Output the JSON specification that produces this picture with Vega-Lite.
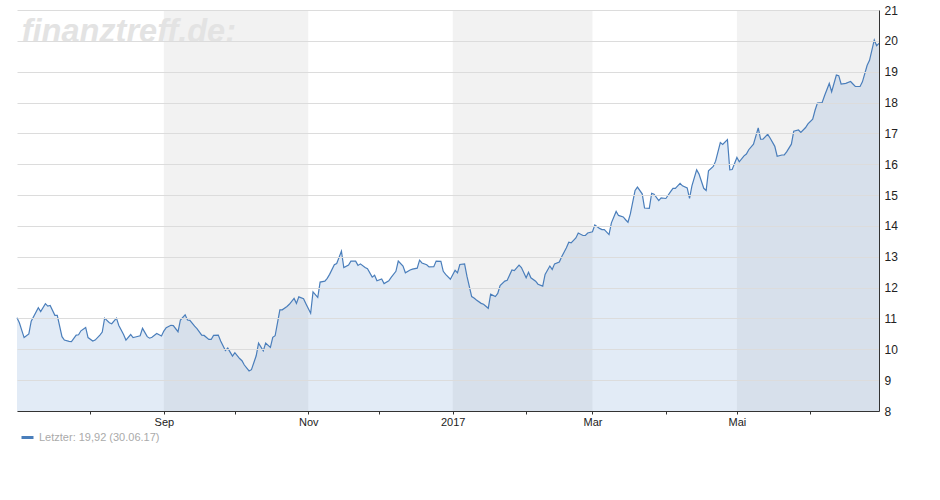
{
  "$schema": "https://vega.github.io/schema/vega-lite/v6.json",
  "width": 862,
  "height": 401,
  "padding": {"left": 14, "top": 4, "right": 5, "bottom": 5},
  "background": "white",
  "config": {"view": {"stroke": null}, "font": "Liberation Sans"},
  "datasets": {
    "bands": [
      {"start": "2016-09-01", "end": "2016-11-01"},
      {"start": "2017-01-01", "end": "2017-03-01"},
      {"start": "2017-05-01", "end": "2017-06-30"}
    ],
    "prices": [
      {"date": "2016-07-01", "value": 11.02}, {"date": "2016-07-02", "value": 10.86}, {"date": "2016-07-04", "value": 10.38}, {"date": "2016-07-06", "value": 10.50},
      {"date": "2016-07-07", "value": 10.91}, {"date": "2016-07-10", "value": 11.35}, {"date": "2016-07-11", "value": 11.22}, {"date": "2016-07-13", "value": 11.48},
      {"date": "2016-07-14", "value": 11.40}, {"date": "2016-07-15", "value": 11.42}, {"date": "2016-07-17", "value": 11.10}, {"date": "2016-07-18", "value": 11.10},
      {"date": "2016-07-20", "value": 10.41}, {"date": "2016-07-21", "value": 10.30}, {"date": "2016-07-23", "value": 10.26}, {"date": "2016-07-24", "value": 10.25},
      {"date": "2016-07-26", "value": 10.46}, {"date": "2016-07-27", "value": 10.47}, {"date": "2016-07-28", "value": 10.60}, {"date": "2016-07-30", "value": 10.71},
      {"date": "2016-07-31", "value": 10.38}, {"date": "2016-08-02", "value": 10.27}, {"date": "2016-08-03", "value": 10.30}, {"date": "2016-08-05", "value": 10.46},
      {"date": "2016-08-06", "value": 10.56}, {"date": "2016-08-07", "value": 11.01}, {"date": "2016-08-09", "value": 10.86}, {"date": "2016-08-10", "value": 10.83},
      {"date": "2016-08-12", "value": 11.01}, {"date": "2016-08-13", "value": 10.77}, {"date": "2016-08-15", "value": 10.48}, {"date": "2016-08-16", "value": 10.30},
      {"date": "2016-08-18", "value": 10.48}, {"date": "2016-08-19", "value": 10.38}, {"date": "2016-08-20", "value": 10.40}, {"date": "2016-08-22", "value": 10.44},
      {"date": "2016-08-23", "value": 10.68}, {"date": "2016-08-25", "value": 10.41}, {"date": "2016-08-26", "value": 10.36}, {"date": "2016-08-27", "value": 10.39},
      {"date": "2016-08-29", "value": 10.51}, {"date": "2016-08-31", "value": 10.43}, {"date": "2016-09-01", "value": 10.59}, {"date": "2016-09-02", "value": 10.70},
      {"date": "2016-09-04", "value": 10.78}, {"date": "2016-09-05", "value": 10.77}, {"date": "2016-09-07", "value": 10.57}, {"date": "2016-09-08", "value": 10.95},
      {"date": "2016-09-10", "value": 11.12}, {"date": "2016-09-11", "value": 10.95}, {"date": "2016-09-12", "value": 10.94}, {"date": "2016-09-14", "value": 10.75},
      {"date": "2016-09-15", "value": 10.67}, {"date": "2016-09-17", "value": 10.46}, {"date": "2016-09-18", "value": 10.45}, {"date": "2016-09-20", "value": 10.32},
      {"date": "2016-09-21", "value": 10.32}, {"date": "2016-09-22", "value": 10.45}, {"date": "2016-09-24", "value": 10.46}, {"date": "2016-09-25", "value": 10.27},
      {"date": "2016-09-27", "value": 9.96}, {"date": "2016-09-28", "value": 10.04}, {"date": "2016-09-30", "value": 9.78}, {"date": "2016-10-01", "value": 9.89},
      {"date": "2016-10-03", "value": 9.70}, {"date": "2016-10-04", "value": 9.63}, {"date": "2016-10-05", "value": 9.49}, {"date": "2016-10-07", "value": 9.30},
      {"date": "2016-10-08", "value": 9.34}, {"date": "2016-10-10", "value": 9.79}, {"date": "2016-10-11", "value": 10.20}, {"date": "2016-10-13", "value": 9.95},
      {"date": "2016-10-14", "value": 10.20}, {"date": "2016-10-16", "value": 10.06}, {"date": "2016-10-17", "value": 10.39}, {"date": "2016-10-18", "value": 10.44},
      {"date": "2016-10-20", "value": 11.28}, {"date": "2016-10-21", "value": 11.28}, {"date": "2016-10-23", "value": 11.39}, {"date": "2016-10-24", "value": 11.46},
      {"date": "2016-10-26", "value": 11.65}, {"date": "2016-10-27", "value": 11.49}, {"date": "2016-10-28", "value": 11.70}, {"date": "2016-10-30", "value": 11.64},
      {"date": "2016-10-31", "value": 11.48}, {"date": "2016-11-02", "value": 11.17}, {"date": "2016-11-03", "value": 11.86}, {"date": "2016-11-05", "value": 11.68},
      {"date": "2016-11-06", "value": 12.18}, {"date": "2016-11-08", "value": 12.21}, {"date": "2016-11-09", "value": 12.30}, {"date": "2016-11-10", "value": 12.43},
      {"date": "2016-11-12", "value": 12.74}, {"date": "2016-11-13", "value": 12.78}, {"date": "2016-11-15", "value": 13.18}, {"date": "2016-11-16", "value": 12.65},
      {"date": "2016-11-18", "value": 12.73}, {"date": "2016-11-19", "value": 12.86}, {"date": "2016-11-21", "value": 12.86}, {"date": "2016-11-22", "value": 12.72},
      {"date": "2016-11-23", "value": 12.77}, {"date": "2016-11-25", "value": 12.65}, {"date": "2016-11-26", "value": 12.61}, {"date": "2016-11-28", "value": 12.34},
      {"date": "2016-11-29", "value": 12.40}, {"date": "2016-11-30", "value": 12.22}, {"date": "2016-12-02", "value": 12.28}, {"date": "2016-12-03", "value": 12.13},
      {"date": "2016-12-05", "value": 12.22}, {"date": "2016-12-06", "value": 12.33}, {"date": "2016-12-08", "value": 12.53}, {"date": "2016-12-09", "value": 12.86},
      {"date": "2016-12-11", "value": 12.70}, {"date": "2016-12-12", "value": 12.48}, {"date": "2016-12-14", "value": 12.57}, {"date": "2016-12-15", "value": 12.60},
      {"date": "2016-12-17", "value": 12.63}, {"date": "2016-12-18", "value": 12.89}, {"date": "2016-12-19", "value": 12.80}, {"date": "2016-12-21", "value": 12.74},
      {"date": "2016-12-22", "value": 12.67}, {"date": "2016-12-24", "value": 12.68}, {"date": "2016-12-25", "value": 12.86}, {"date": "2016-12-27", "value": 12.85},
      {"date": "2016-12-28", "value": 12.53}, {"date": "2016-12-29", "value": 12.43}, {"date": "2016-12-31", "value": 12.27}, {"date": "2017-01-02", "value": 12.56},
      {"date": "2017-01-03", "value": 12.48}, {"date": "2017-01-04", "value": 12.75}, {"date": "2017-01-06", "value": 12.77}, {"date": "2017-01-07", "value": 12.37},
      {"date": "2017-01-09", "value": 11.71}, {"date": "2017-01-10", "value": 11.66}, {"date": "2017-01-11", "value": 11.60}, {"date": "2017-01-13", "value": 11.49},
      {"date": "2017-01-14", "value": 11.46}, {"date": "2017-01-16", "value": 11.33}, {"date": "2017-01-17", "value": 11.79}, {"date": "2017-01-19", "value": 11.71},
      {"date": "2017-01-20", "value": 11.81}, {"date": "2017-01-21", "value": 12.07}, {"date": "2017-01-23", "value": 12.21}, {"date": "2017-01-24", "value": 12.24},
      {"date": "2017-01-26", "value": 12.57}, {"date": "2017-01-27", "value": 12.55}, {"date": "2017-01-29", "value": 12.73}, {"date": "2017-01-30", "value": 12.65},
      {"date": "2017-02-01", "value": 12.32}, {"date": "2017-02-02", "value": 12.50}, {"date": "2017-02-03", "value": 12.32}, {"date": "2017-02-05", "value": 12.21},
      {"date": "2017-02-06", "value": 12.11}, {"date": "2017-02-08", "value": 12.05}, {"date": "2017-02-09", "value": 12.43}, {"date": "2017-02-11", "value": 12.70},
      {"date": "2017-02-12", "value": 12.59}, {"date": "2017-02-13", "value": 12.77}, {"date": "2017-02-15", "value": 12.83}, {"date": "2017-02-16", "value": 13.00},
      {"date": "2017-02-18", "value": 13.29}, {"date": "2017-02-19", "value": 13.47}, {"date": "2017-02-20", "value": 13.45}, {"date": "2017-02-22", "value": 13.61},
      {"date": "2017-02-23", "value": 13.77}, {"date": "2017-02-25", "value": 13.69}, {"date": "2017-02-26", "value": 13.69}, {"date": "2017-02-27", "value": 13.77},
      {"date": "2017-03-01", "value": 13.81}, {"date": "2017-03-02", "value": 14.03}, {"date": "2017-03-04", "value": 13.92}, {"date": "2017-03-05", "value": 13.88},
      {"date": "2017-03-06", "value": 13.88}, {"date": "2017-03-08", "value": 13.72}, {"date": "2017-03-09", "value": 14.10}, {"date": "2017-03-11", "value": 14.47},
      {"date": "2017-03-12", "value": 14.34}, {"date": "2017-03-14", "value": 14.29}, {"date": "2017-03-15", "value": 14.20}, {"date": "2017-03-16", "value": 14.12},
      {"date": "2017-03-17", "value": 14.39}, {"date": "2017-03-19", "value": 15.15}, {"date": "2017-03-20", "value": 15.26}, {"date": "2017-03-22", "value": 15.04},
      {"date": "2017-03-23", "value": 14.58}, {"date": "2017-03-25", "value": 14.57}, {"date": "2017-03-26", "value": 15.06}, {"date": "2017-03-27", "value": 15.03},
      {"date": "2017-03-29", "value": 14.82}, {"date": "2017-03-30", "value": 14.91}, {"date": "2017-04-01", "value": 14.89}, {"date": "2017-04-03", "value": 15.11},
      {"date": "2017-04-04", "value": 15.22}, {"date": "2017-04-05", "value": 15.22}, {"date": "2017-04-07", "value": 15.38}, {"date": "2017-04-08", "value": 15.30},
      {"date": "2017-04-10", "value": 15.23}, {"date": "2017-04-11", "value": 14.89}, {"date": "2017-04-12", "value": 15.30}, {"date": "2017-04-14", "value": 15.82},
      {"date": "2017-04-15", "value": 15.68}, {"date": "2017-04-17", "value": 15.22}, {"date": "2017-04-18", "value": 15.15}, {"date": "2017-04-19", "value": 15.79},
      {"date": "2017-04-21", "value": 15.93}, {"date": "2017-04-22", "value": 16.10}, {"date": "2017-04-24", "value": 16.70}, {"date": "2017-04-25", "value": 16.64},
      {"date": "2017-04-27", "value": 16.80}, {"date": "2017-04-28", "value": 15.82}, {"date": "2017-04-29", "value": 15.83}, {"date": "2017-05-01", "value": 16.22},
      {"date": "2017-05-02", "value": 16.08}, {"date": "2017-05-04", "value": 16.27}, {"date": "2017-05-05", "value": 16.33}, {"date": "2017-05-06", "value": 16.47},
      {"date": "2017-05-08", "value": 16.65}, {"date": "2017-05-10", "value": 17.18}, {"date": "2017-05-11", "value": 16.81}, {"date": "2017-05-12", "value": 16.81},
      {"date": "2017-05-14", "value": 16.97}, {"date": "2017-05-15", "value": 16.85}, {"date": "2017-05-17", "value": 16.58}, {"date": "2017-05-18", "value": 16.26},
      {"date": "2017-05-20", "value": 16.30}, {"date": "2017-05-21", "value": 16.30}, {"date": "2017-05-22", "value": 16.40}, {"date": "2017-05-24", "value": 16.65},
      {"date": "2017-05-25", "value": 17.07}, {"date": "2017-05-27", "value": 17.11}, {"date": "2017-05-28", "value": 17.03}, {"date": "2017-05-30", "value": 17.19},
      {"date": "2017-05-31", "value": 17.31}, {"date": "2017-06-02", "value": 17.46}, {"date": "2017-06-03", "value": 17.75}, {"date": "2017-06-04", "value": 17.98},
      {"date": "2017-06-06", "value": 18.00}, {"date": "2017-06-07", "value": 18.22}, {"date": "2017-06-09", "value": 18.62}, {"date": "2017-06-10", "value": 18.35},
      {"date": "2017-06-12", "value": 18.89}, {"date": "2017-06-13", "value": 18.87}, {"date": "2017-06-14", "value": 18.60}, {"date": "2017-06-16", "value": 18.62},
      {"date": "2017-06-18", "value": 18.68}, {"date": "2017-06-19", "value": 18.60}, {"date": "2017-06-20", "value": 18.52}, {"date": "2017-06-22", "value": 18.52},
      {"date": "2017-06-23", "value": 18.67}, {"date": "2017-06-25", "value": 19.21}, {"date": "2017-06-26", "value": 19.37}, {"date": "2017-06-28", "value": 20.03},
      {"date": "2017-06-29", "value": 19.84}, {"date": "2017-06-30", "value": 19.92}
    ]
  },
  "layer": [
    {
      "data": {"name": "bands"},
      "mark": {"type": "rect", "color": "#f2f2f2"},
      "encoding": {
        "x": {"field": "start", "type": "temporal", "title": null,
              "scale": {"type": "utc", "domain": [{"year": 2016, "month": 7, "date": 1, "utc": true}, {"year": 2017, "month": 6, "date": 30, "utc": true}]},
              "axis": {
                "values": [
                  {"year": 2016, "month": 8, "date": 1, "utc": true}, {"year": 2016, "month": 9, "date": 1, "utc": true},
                  {"year": 2016, "month": 10, "date": 1, "utc": true}, {"year": 2016, "month": 11, "date": 1, "utc": true},
                  {"year": 2016, "month": 12, "date": 1, "utc": true}, {"year": 2017, "month": 1, "date": 1, "utc": true},
                  {"year": 2017, "month": 2, "date": 1, "utc": true}, {"year": 2017, "month": 3, "date": 1, "utc": true},
                  {"year": 2017, "month": 4, "date": 1, "utc": true}, {"year": 2017, "month": 5, "date": 1, "utc": true},
                  {"year": 2017, "month": 6, "date": 1, "utc": true}
                ],
                "labelExpr": "utcmonth(datum.value) == 0 ? utcFormat(datum.value, '%Y') : utcmonth(datum.value) == 2 ? 'Mar' : utcmonth(datum.value) == 4 ? 'Mai' : utcmonth(datum.value) == 8 ? 'Sep' : utcmonth(datum.value) == 10 ? 'Nov' : ''",
                "grid": false, "domainColor": "#333333", "tickColor": "#333333", "tickSize": 3,
                "labelFontSize": 11, "labelColor": "#222222", "labelPadding": 2, "labelFlush": false, "zindex": 1
              }},
        "x2": {"field": "end"}
      }
    },
    {
      "data": {"values": [{"label": "finanztreff.de:", "date": "2016-07-03", "value": 19.96}]},
      "mark": {"type": "text", "font": "Liberation Sans", "fontSize": 32.5, "fontWeight": "bold", "fontStyle": "italic", "color": "#e3e3e3", "align": "left", "baseline": "alphabetic"},
      "encoding": {
        "x": {"field": "date", "type": "temporal", "title": null},
        "y": {"field": "value", "type": "quantitative", "title": null,
              "scale": {"domain": [8, 21], "nice": false, "zero": false},
              "axis": {
                "orient": "right", "values": [8, 9, 10, 11, 12, 13, 14, 15, 16, 17, 18, 19, 20, 21],
                "grid": true, "gridColor": "#dcdcdc", "domainColor": "#333333", "ticks": false,
                "labelPadding": 5, "labelFontSize": 12, "labelColor": "#222222", "zindex": 1
              }},
        "text": {"field": "label"}
      }
    },
    {
      "data": {"name": "prices"},
      "mark": {"type": "area", "color": "#4a82c8", "opacity": 0.16},
      "encoding": {
        "x": {"field": "date", "type": "temporal", "title": null},
        "y": {"field": "value", "type": "quantitative", "title": null,
              "axis": {
                "orient": "right", "values": [8, 9, 10, 11, 12, 13, 14, 15, 16, 17, 18, 19, 20, 21],
                "grid": true, "gridColor": "#dcdcdc", "domainColor": "#333333", "ticks": false,
                "labelPadding": 5, "labelFontSize": 12, "labelColor": "#222222", "zindex": 1
              }},
        "y2": {"datum": 8}
      }
    },
    {
      "data": {"name": "prices"},
      "mark": {"type": "line", "strokeWidth": 1.2, "interpolate": "linear"},
      "encoding": {
        "x": {"field": "date", "type": "temporal", "title": null},
        "y": {"field": "value", "type": "quantitative", "title": null,
              "axis": {
                "orient": "right", "values": [8, 9, 10, 11, 12, 13, 14, 15, 16, 17, 18, 19, 20, 21],
                "grid": true, "gridColor": "#dcdcdc", "domainColor": "#333333", "ticks": false,
                "labelPadding": 5, "labelFontSize": 12, "labelColor": "#222222", "zindex": 1
              }},
        "color": {"datum": "Letzter: 19,92 (30.06.17)", "type": "nominal",
                  "scale": {"range": ["#4a7ebb"]},
                  "legend": {"orient": "bottom", "title": null, "symbolType": "stroke", "symbolStrokeWidth": 3,
                             "symbolSize": 144, "labelColor": "#aaaaaa", "labelFontSize": 11, "offset": 0, "padding": 3}}
      }
    }
  ]
}
